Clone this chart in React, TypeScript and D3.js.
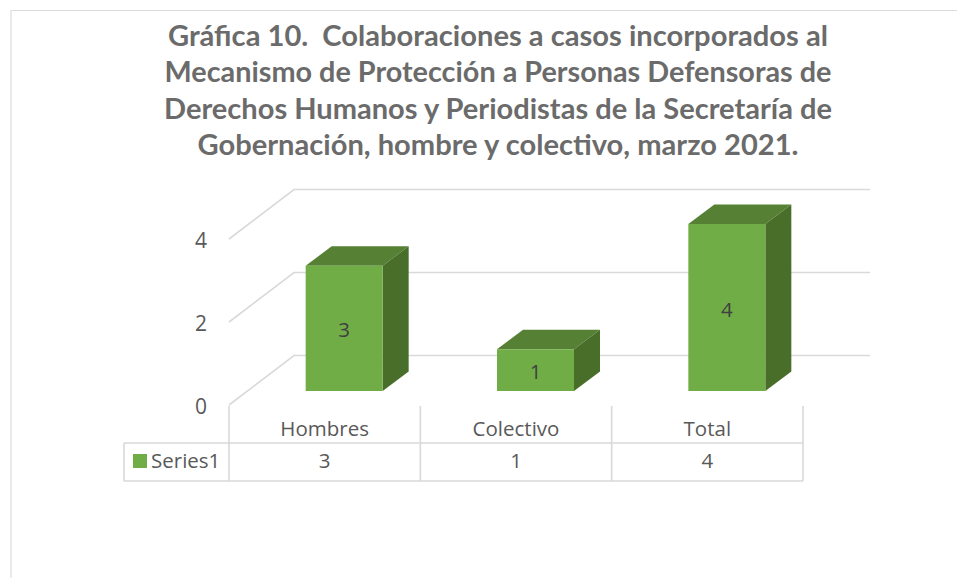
import React from "react";
import * as d3 from "d3";

const categories = ["Hombres", "Colectivo", "Total"];
const values = [3, 1, 4];
const axisTicks = [0, 2, 4];
const seriesName = "Series1";
const titleLines = [
  "Gráfica 10.  Colaboraciones a casos incorporados al",
  "Mecanismo de Protección a Personas Defensoras de",
  "Derechos Humanos y Periodistas de la Secretaría de",
  "Gobernación, hombre y colectivo, marzo 2021.",
];
const titleWidths = [660, 667, 668, 601];

const DX = 65, DY = -49.5;
const BDX = 26, BDY = -19.5;
const GRID = "#d9d9d9", TEXT = "#595959";
const FONT = "'Open Sans', sans-serif";

export default function App() {
  const x = d3.scaleBand<string>().domain(categories).range([229, 803]).paddingInner(0).paddingOuter(0);
  const yAxis = d3.scaleLinear().domain([0, 4]).range([405, 239]);
  const yBar = d3.scaleLinear().domain([0, 4]).range([391, 224]);
  const bw = x.bandwidth();
  const barW = 77;
  const offset = 19.5;
  const tableTop = 406, tableMid = 443, tableBot = 481;
  const poly = (p: [number, number][]) => p.map((q) => q.join(",")).join(" ");

  return (
    <svg width={957} height={578} style={{ position: "absolute", left: 0, top: 0, background: "#fff" }} fontFamily={FONT}>
      <path d="M11,578V10.5H957" fill="none" stroke="#dcdcdc" strokeWidth={1.2} />
      {titleLines.map((t, i) => (
        <text key={i} x={498} y={46 + i * 36.3} textAnchor="middle" fontSize={29} fontWeight={700} fill="#6b6b6b"
          fontFamily="Lato, sans-serif" textLength={titleWidths[i]} lengthAdjust="spacingAndGlyphs" style={{ whiteSpace: "pre" }}>{t}</text>
      ))}

      {axisTicks.map((t) => {
        const y0 = yAxis(t);
        return (
          <g key={t}>
            <polyline points={poly([[229, y0], [229 + DX, y0 + DY], [870, y0 + DY]])} fill="none" stroke={GRID} strokeWidth={1.6} />
            <text x={207} y={y0 + 9} textAnchor="end" fontSize={21} fill={TEXT}>{t}</text>
          </g>
        );
      })}

      {categories.map((c, i) => {
        const left = (x(c) as number) + bw / 2 - barW / 2 + offset;
        const right = left + barW;
        const base = yBar(0);
        const top = yBar(values[i]);
        return (
          <g key={c}>
            <polygon points={poly([[left, top], [left + BDX, top + BDY], [right + BDX, top + BDY], [right, top]])} fill="#568135" />
            <polygon points={poly([[right, top], [right + BDX, top + BDY], [right + BDX, base + BDY], [right, base]])} fill="#496e2a" />
            <rect x={left} y={top} width={barW} height={base - top} fill="#70ad47" />
            <text x={left + barW / 2} y={(top + base) / 2 + 9} textAnchor="middle" fontSize={20.5} fill="#404040">{values[i]}</text>
          </g>
        );
      })}

      <path d={`M124,${tableMid}H803M124,${tableBot}H803M124,${tableMid}V${tableBot}`} fill="none" stroke={GRID} strokeWidth={1.6} />
      {[...categories.map((c) => x(c) as number), 803].map((px) => (
        <line key={px} x1={px} x2={px} y1={tableTop} y2={tableBot} stroke={GRID} strokeWidth={1.6} />
      ))}
      {categories.map((c, i) => (
        <g key={c} textAnchor="middle" fontSize={20.5} fill={TEXT}>
          <text x={(x(c) as number) + bw / 2} y={436}>{c}</text>
          <text x={(x(c) as number) + bw / 2} y={468}>{values[i]}</text>
        </g>
      ))}
      <rect x={133} y={454} width={14} height={14} fill="#70ad47" />
      <text x={151} y={468} fontSize={20.5} fill={TEXT}>{seriesName}</text>
    </svg>
  );
}
